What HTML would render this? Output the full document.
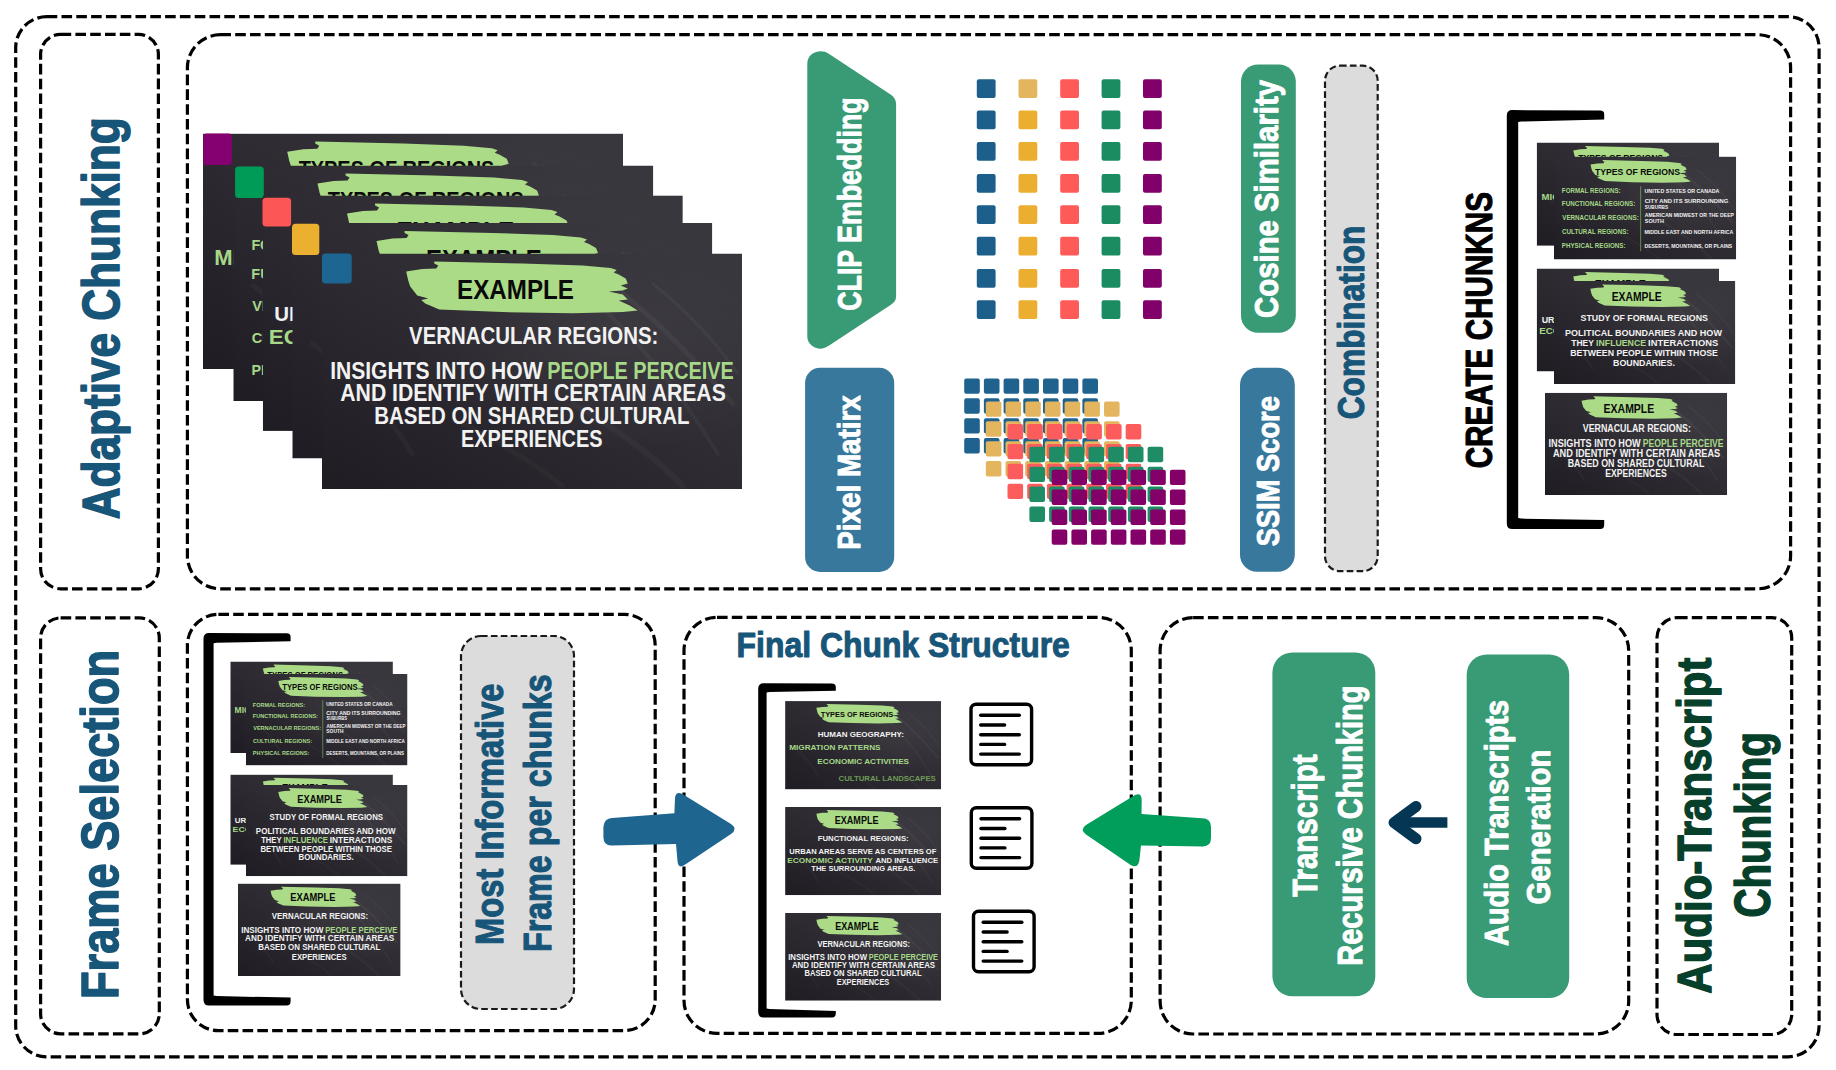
<!DOCTYPE html><html><head><meta charset="utf-8"><style>html,body{margin:0;padding:0;background:#fff;}svg{display:block;} text{font-family:"Liberation Sans", sans-serif;}</style></head><body>
<svg width="1836" height="1070" viewBox="0 0 1836 1070">
<defs>
<linearGradient id="chalk" x1="1" y1="0" x2="0" y2="1"><stop offset="0" stop-color="#38363d"/><stop offset="0.45" stop-color="#2f2d33"/><stop offset="1" stop-color="#1f1d23"/></linearGradient>
<radialGradient id="chalk2" cx="0.7" cy="0.35" r="0.5"><stop offset="0" stop-color="#ffffff" stop-opacity="0.05"/><stop offset="1" stop-color="#ffffff" stop-opacity="0"/></radialGradient>
<symbol id="sE" viewBox="0 0 419 235" preserveAspectRatio="none">
<rect x="0" y="0" width="419" height="235" fill="url(#chalk)"/>
<rect x="0" y="0" width="419" height="235" fill="url(#chalk2)"/>
<g fill="none" stroke="#ffffff" stroke-linecap="round"><path d="M300,40 Q350,80 410,150" stroke-opacity="0.045" stroke-width="5"/><path d="M280,55 Q340,110 395,200" stroke-opacity="0.035" stroke-width="4"/><path d="M330,30 Q380,70 415,120" stroke-opacity="0.04" stroke-width="3"/><path d="M250,150 Q320,190 360,232" stroke-opacity="0.03" stroke-width="6"/><path d="M20,120 Q60,150 90,200" stroke-opacity="0.03" stroke-width="5"/><path d="M140,170 Q200,200 240,232" stroke-opacity="0.025" stroke-width="5"/></g>
<path d="M112,8 L200,10 L260,12 L288,14.5 L294,16.5 L291,19 L296,21 L303,25 L305,30 L298,32 L305,35 L300,37 L286,38 L300,41 L305,46 L296,47 L307,52 L315,57 L300,58.5 L250,59.5 L180,58.5 L117,56 L103,50 L99,46.5 L106,45 L95,42 L88,33 L86,27 L84,18 L100,15.5 L114,15 L116,12 L112,10 Z" fill="#abdb87"/>
<text x="134.79" y="45.5" font-size="28.11" font-weight="bold" fill="#0a0a0a" text-anchor="start" textLength="116.45" lengthAdjust="spacingAndGlyphs">EXAMPLE</text>
<text x="86.86" y="90.3" font-size="23.5" font-weight="bold" fill="#f2f2f2" text-anchor="start" textLength="248.7" lengthAdjust="spacingAndGlyphs">VERNACULAR REGIONS:</text>
<text x="8.2" y="125" font-size="23.5" font-weight="bold" fill="#f2f2f2" text-anchor="start" textLength="211.82" lengthAdjust="spacingAndGlyphs">INSIGHTS INTO HOW</text>
<text x="224.67" y="125" font-size="23.5" font-weight="bold" fill="#a6d888" text-anchor="start" textLength="186.1" lengthAdjust="spacingAndGlyphs">PEOPLE PERCEIVE</text>
<text x="18.27" y="147" font-size="23.5" font-weight="bold" fill="#f2f2f2" text-anchor="start" textLength="384.55" lengthAdjust="spacingAndGlyphs">AND IDENTIFY WITH CERTAIN AREAS</text>
<text x="52.14" y="170.1" font-size="23.5" font-weight="bold" fill="#f2f2f2" text-anchor="start" textLength="314.49" lengthAdjust="spacingAndGlyphs">BASED ON SHARED CULTURAL</text>
<text x="138.67" y="193.3" font-size="23.5" font-weight="bold" fill="#f2f2f2" text-anchor="start" textLength="141.1" lengthAdjust="spacingAndGlyphs">EXPERIENCES</text>
</symbol>
<symbol id="sX" viewBox="0 0 419 235" preserveAspectRatio="none">
<rect x="0" y="0" width="419" height="235" fill="url(#chalk)"/>
<rect x="0" y="0" width="419" height="235" fill="url(#chalk2)"/>
<g fill="none" stroke="#ffffff" stroke-linecap="round"><path d="M300,40 Q350,80 410,150" stroke-opacity="0.045" stroke-width="5"/><path d="M280,55 Q340,110 395,200" stroke-opacity="0.035" stroke-width="4"/><path d="M330,30 Q380,70 415,120" stroke-opacity="0.04" stroke-width="3"/><path d="M250,150 Q320,190 360,232" stroke-opacity="0.03" stroke-width="6"/><path d="M20,120 Q60,150 90,200" stroke-opacity="0.03" stroke-width="5"/><path d="M140,170 Q200,200 240,232" stroke-opacity="0.025" stroke-width="5"/></g>
<path d="M112,8 L200,10 L260,12 L288,14.5 L294,16.5 L291,19 L296,21 L303,25 L305,30 L298,32 L305,35 L300,37 L286,38 L300,41 L305,46 L296,47 L307,52 L315,57 L300,58.5 L250,59.5 L180,58.5 L117,56 L103,50 L99,46.5 L106,45 L95,42 L88,33 L86,27 L84,18 L100,15.5 L114,15 L116,12 L112,10 Z" fill="#abdb87"/>
<text x="133.4" y="45.5" font-size="28.11" font-weight="bold" fill="#0a0a0a" text-anchor="start" textLength="115.53" lengthAdjust="spacingAndGlyphs">EXAMPLE</text>
</symbol>
<symbol id="sD" viewBox="0 0 419 235" preserveAspectRatio="none">
<rect x="0" y="0" width="419" height="235" fill="url(#chalk)"/>
<rect x="0" y="0" width="419" height="235" fill="url(#chalk2)"/>
<g fill="none" stroke="#ffffff" stroke-linecap="round"><path d="M300,40 Q350,80 410,150" stroke-opacity="0.045" stroke-width="5"/><path d="M280,55 Q340,110 395,200" stroke-opacity="0.035" stroke-width="4"/><path d="M330,30 Q380,70 415,120" stroke-opacity="0.04" stroke-width="3"/><path d="M250,150 Q320,190 360,232" stroke-opacity="0.03" stroke-width="6"/><path d="M20,120 Q60,150 90,200" stroke-opacity="0.03" stroke-width="5"/><path d="M140,170 Q200,200 240,232" stroke-opacity="0.025" stroke-width="5"/></g>
<path d="M112,8 L200,10 L260,12 L288,14.5 L294,16.5 L291,19 L296,21 L303,25 L305,30 L298,32 L305,35 L300,37 L286,38 L300,41 L305,46 L296,47 L307,52 L315,57 L300,58.5 L250,59.5 L180,58.5 L117,56 L103,50 L99,46.5 L106,45 L95,42 L88,33 L86,27 L84,18 L100,15.5 L114,15 L116,12 L112,10 Z" fill="#abdb87"/>
<text x="133.37" y="45.8" font-size="28.11" font-weight="bold" fill="#0a0a0a" text-anchor="start" textLength="117.58" lengthAdjust="spacingAndGlyphs">EXAMPLE</text>
<text x="87.6" y="90.6" font-size="19.86" font-weight="bold" fill="#f2f2f2" text-anchor="start" textLength="244.41" lengthAdjust="spacingAndGlyphs">FUNCTIONAL REGIONS:</text>
<text x="11.37" y="125.5" font-size="19.86" font-weight="bold" fill="#f2f2f2" text-anchor="start" textLength="394.97" lengthAdjust="spacingAndGlyphs">URBAN AREAS SERVE AS CENTERS OF</text>
<text x="6.01" y="148.7" font-size="19.86" font-weight="bold" fill="#a6d888" text-anchor="start" textLength="229.85" lengthAdjust="spacingAndGlyphs">ECONOMIC ACTIVITY</text>
<text x="242.49" y="148.7" font-size="19.86" font-weight="bold" fill="#f2f2f2" text-anchor="start" textLength="168.32" lengthAdjust="spacingAndGlyphs">AND INFLUENCE</text>
<text x="70.47" y="171.2" font-size="19.86" font-weight="bold" fill="#f2f2f2" text-anchor="start" textLength="279.31" lengthAdjust="spacingAndGlyphs">THE SURROUNDING AREAS.</text>
</symbol>
<symbol id="sC" viewBox="0 0 419 235" preserveAspectRatio="none">
<rect x="0" y="0" width="419" height="235" fill="url(#chalk)"/>
<rect x="0" y="0" width="419" height="235" fill="url(#chalk2)"/>
<g fill="none" stroke="#ffffff" stroke-linecap="round"><path d="M300,40 Q350,80 410,150" stroke-opacity="0.045" stroke-width="5"/><path d="M280,55 Q340,110 395,200" stroke-opacity="0.035" stroke-width="4"/><path d="M330,30 Q380,70 415,120" stroke-opacity="0.04" stroke-width="3"/><path d="M250,150 Q320,190 360,232" stroke-opacity="0.03" stroke-width="6"/><path d="M20,120 Q60,150 90,200" stroke-opacity="0.03" stroke-width="5"/><path d="M140,170 Q200,200 240,232" stroke-opacity="0.025" stroke-width="5"/></g>
<path d="M112,8 L200,10 L260,12 L288,14.5 L294,16.5 L291,19 L296,21 L303,25 L305,30 L298,32 L305,35 L300,37 L286,38 L300,41 L305,46 L296,47 L307,52 L315,57 L300,58.5 L250,59.5 L180,58.5 L117,56 L103,50 L99,46.5 L106,45 L95,42 L88,33 L86,27 L84,18 L100,15.5 L114,15 L116,12 L112,10 Z" fill="#abdb87"/>
<text x="133.4" y="45.5" font-size="28.11" font-weight="bold" fill="#0a0a0a" text-anchor="start" textLength="115.53" lengthAdjust="spacingAndGlyphs">EXAMPLE</text>
<text x="61.41" y="91" font-size="21.4" font-weight="bold" fill="#f2f2f2" text-anchor="start" textLength="294.38" lengthAdjust="spacingAndGlyphs">STUDY OF FORMAL REGIONS</text>
<text x="25.61" y="126" font-size="21.4" font-weight="bold" fill="#f2f2f2" text-anchor="start" textLength="362.41" lengthAdjust="spacingAndGlyphs">POLITICAL BOUNDARIES AND HOW</text>
<text x="39.78" y="149" font-size="21.4" font-weight="bold" fill="#f2f2f2" text-anchor="start" textLength="52.54" lengthAdjust="spacingAndGlyphs">THEY</text>
<text x="97.25" y="149" font-size="21.4" font-weight="bold" fill="#a6d888" text-anchor="start" textLength="115.54" lengthAdjust="spacingAndGlyphs">INFLUENCE</text>
<text x="217.56" y="149" font-size="21.4" font-weight="bold" fill="#f2f2f2" text-anchor="start" textLength="161.89" lengthAdjust="spacingAndGlyphs">INTERACTIONS</text>
<text x="37.65" y="172" font-size="21.4" font-weight="bold" fill="#f2f2f2" text-anchor="start" textLength="341.14" lengthAdjust="spacingAndGlyphs">BETWEEN PEOPLE WITHIN THOSE</text>
<text x="136.43" y="194.4" font-size="21.4" font-weight="bold" fill="#f2f2f2" text-anchor="start" textLength="142.87" lengthAdjust="spacingAndGlyphs">BOUNDARIES.</text>
</symbol>
<symbol id="sB" viewBox="0 0 419 235" preserveAspectRatio="none">
<rect x="0" y="0" width="419" height="235" fill="url(#chalk)"/>
<rect x="0" y="0" width="419" height="235" fill="url(#chalk2)"/>
<g fill="none" stroke="#ffffff" stroke-linecap="round"><path d="M300,40 Q350,80 410,150" stroke-opacity="0.045" stroke-width="5"/><path d="M280,55 Q340,110 395,200" stroke-opacity="0.035" stroke-width="4"/><path d="M330,30 Q380,70 415,120" stroke-opacity="0.04" stroke-width="3"/><path d="M250,150 Q320,190 360,232" stroke-opacity="0.03" stroke-width="6"/><path d="M20,120 Q60,150 90,200" stroke-opacity="0.03" stroke-width="5"/><path d="M140,170 Q200,200 240,232" stroke-opacity="0.025" stroke-width="5"/></g>
<path d="M112,8 L200,10 L260,12 L288,14.5 L294,16.5 L291,19 L296,21 L303,25 L305,30 L298,32 L305,35 L300,37 L286,38 L300,41 L305,46 L296,47 L307,52 L315,57 L300,58.5 L250,59.5 L180,58.5 L117,56 L103,50 L99,46.5 L106,45 L95,42 L88,33 L86,27 L84,18 L100,15.5 L114,15 L116,12 L112,10 Z" fill="#abdb87"/>
<text x="95.48" y="42" font-size="21.54" font-weight="bold" fill="#0a0a0a" text-anchor="start" textLength="195.1" lengthAdjust="spacingAndGlyphs">TYPES OF REGIONS</text>
<text x="87.56" y="95.8" font-size="19.58" font-weight="bold" fill="#f2f2f2" text-anchor="start" textLength="231.51" lengthAdjust="spacingAndGlyphs">HUMAN GEOGRAPHY:</text>
<text x="11.13" y="131.5" font-size="21.4" font-weight="bold" fill="#a6d888" text-anchor="start" textLength="245.13" lengthAdjust="spacingAndGlyphs">MIGRATION PATTERNS</text>
<text x="86.53" y="167" font-size="21.4" font-weight="bold" fill="#a6d888" text-anchor="start" textLength="246.32" lengthAdjust="spacingAndGlyphs">ECONOMIC ACTIVITIES</text>
<text x="143.74" y="213.3" font-size="21.4" font-weight="bold" fill="#6f9a58" text-anchor="start" textLength="261.07" lengthAdjust="spacingAndGlyphs">CULTURAL LANDSCAPES</text>
</symbol>
<symbol id="sA" viewBox="0 0 419 235" preserveAspectRatio="none">
<rect x="0" y="0" width="419" height="235" fill="url(#chalk)"/>
<rect x="0" y="0" width="419" height="235" fill="url(#chalk2)"/>
<g fill="none" stroke="#ffffff" stroke-linecap="round"><path d="M300,40 Q350,80 410,150" stroke-opacity="0.045" stroke-width="5"/><path d="M280,55 Q340,110 395,200" stroke-opacity="0.035" stroke-width="4"/><path d="M330,30 Q380,70 415,120" stroke-opacity="0.04" stroke-width="3"/><path d="M250,150 Q320,190 360,232" stroke-opacity="0.03" stroke-width="6"/><path d="M20,120 Q60,150 90,200" stroke-opacity="0.03" stroke-width="5"/><path d="M140,170 Q200,200 240,232" stroke-opacity="0.025" stroke-width="5"/></g>
<path d="M112,8 L200,10 L260,12 L288,14.5 L294,16.5 L291,19 L296,21 L303,25 L305,30 L298,32 L305,35 L300,37 L286,38 L300,41 L305,46 L296,47 L307,52 L315,57 L300,58.5 L250,59.5 L180,58.5 L117,56 L103,50 L99,46.5 L106,45 L95,42 L88,33 L86,27 L84,18 L100,15.5 L114,15 L116,12 L112,10 Z" fill="#abdb87"/>
<text x="94.28" y="41.5" font-size="21.54" font-weight="bold" fill="#0a0a0a" text-anchor="start" textLength="195.5" lengthAdjust="spacingAndGlyphs">TYPES OF REGIONS</text>
<text x="18.05" y="83.9" font-size="14.83" font-weight="bold" fill="#a6d888" text-anchor="start" textLength="135.33" lengthAdjust="spacingAndGlyphs">FORMAL REGIONS:</text>
<text x="18.03" y="113.4" font-size="14.83" font-weight="bold" fill="#a6d888" text-anchor="start" textLength="168.85" lengthAdjust="spacingAndGlyphs">FUNCTIONAL REGIONS:</text>
<text x="18.9" y="144.9" font-size="14.83" font-weight="bold" fill="#a6d888" text-anchor="start" textLength="175.98" lengthAdjust="spacingAndGlyphs">VERNACULAR REGIONS:</text>
<text x="18.41" y="177.20000000000002" font-size="14.83" font-weight="bold" fill="#a6d888" text-anchor="start" textLength="152.99" lengthAdjust="spacingAndGlyphs">CULTURAL REGIONS:</text>
<text x="18.05" y="208.8" font-size="14.83" font-weight="bold" fill="#a6d888" text-anchor="start" textLength="146.33" lengthAdjust="spacingAndGlyphs">PHYSICAL REGIONS:</text>
<rect x="198.7" y="67.7" width="1.6" height="148.3" fill="#7fb860"/>
<text x="208.27" y="83.3" font-size="12.03" font-weight="bold" fill="#f2f2f2" text-anchor="start" textLength="172.05" lengthAdjust="spacingAndGlyphs">UNITED STATES OR CANADA</text>
<text x="208.45" y="106.5" font-size="12.03" font-weight="bold" fill="#f2f2f2" text-anchor="start" textLength="192.38" lengthAdjust="spacingAndGlyphs">CITY AND ITS SURROUNDING</text>
<text x="208.69" y="119.2" font-size="12.03" font-weight="bold" fill="#f2f2f2" text-anchor="start" textLength="53.74" lengthAdjust="spacingAndGlyphs">SUBURBS</text>
<text x="208.71" y="138.8" font-size="12.03" font-weight="bold" fill="#f2f2f2" text-anchor="start" textLength="205.3" lengthAdjust="spacingAndGlyphs">AMERICAN MIDWEST OR THE DEEP</text>
<text x="208.64" y="151.4" font-size="12.03" font-weight="bold" fill="#f2f2f2" text-anchor="start" textLength="44.22" lengthAdjust="spacingAndGlyphs">SOUTH</text>
<text x="208.2" y="176.60000000000002" font-size="12.03" font-weight="bold" fill="#f2f2f2" text-anchor="start" textLength="203.92" lengthAdjust="spacingAndGlyphs">MIDDLE EAST AND NORTH AFRICA</text>
<text x="208.22" y="208.20000000000002" font-size="12.03" font-weight="bold" fill="#f2f2f2" text-anchor="start" textLength="201.74" lengthAdjust="spacingAndGlyphs">DESERTS, MOUNTAINS, OR PLAINS</text>
</symbol>
</defs>
<rect x="0" y="0" width="1836" height="1070" fill="#ffffff"/>
<rect x="15.7" y="16.7" width="1803.4" height="1040.1" rx="31" ry="31" fill="none" stroke="#000" stroke-width="3.2" stroke-dasharray="10.6 4.2"/>
<rect x="40.6" y="34.4" width="117.8" height="554.4" rx="20" ry="20" fill="none" stroke="#000" stroke-width="3.2" stroke-dasharray="10.6 4.2"/>
<rect x="187.4" y="34.7" width="1603.2" height="554.1" rx="33" ry="33" fill="none" stroke="#000" stroke-width="3.2" stroke-dasharray="10.6 4.2"/>
<rect x="40.6" y="617.9" width="118.7" height="415.9" rx="20" ry="20" fill="none" stroke="#000" stroke-width="3.2" stroke-dasharray="10.6 4.2"/>
<rect x="187.4" y="614.3" width="467.8" height="416.3" rx="31" ry="31" fill="none" stroke="#000" stroke-width="3.2" stroke-dasharray="10.6 4.2"/>
<rect x="684.0" y="617.4" width="447.3" height="416.0" rx="33" ry="33" fill="none" stroke="#000" stroke-width="3.2" stroke-dasharray="10.6 4.2"/>
<rect x="1160.1" y="617.6" width="468.6" height="416.4" rx="33" ry="33" fill="none" stroke="#000" stroke-width="3.2" stroke-dasharray="10.6 4.2"/>
<rect x="1657.0" y="617.6" width="134.7" height="416.9" rx="20" ry="20" fill="none" stroke="#000" stroke-width="3.2" stroke-dasharray="10.6 4.2"/>
<text transform="translate(118.93,519.33) rotate(-90)" font-size="51.69" font-weight="bold" fill="#175579" stroke="#175579" stroke-width="1.54" stroke-linejoin="round" textLength="402.01" lengthAdjust="spacingAndGlyphs">Adaptive Chunking</text>
<text transform="translate(118.32,999.04) rotate(-90)" font-size="52.36" font-weight="bold" fill="#175579" stroke="#175579" stroke-width="1.56" stroke-linejoin="round" textLength="349.17" lengthAdjust="spacingAndGlyphs">Frame Selection</text>
<use href="#sB" x="203" y="133.6" width="420" height="235.5"/>
<rect x="203.3" y="133.6" width="28.6" height="31.4" rx="3.5" fill="#850070"/>
<use href="#sA" x="233.3" y="165.5" width="420" height="235.5"/>
<rect x="235.1" y="166.5" width="28.7" height="31.6" rx="3.5" fill="#009b57"/>
<use href="#sD" x="262.8" y="195.4" width="420" height="235.5"/>
<rect x="262.5" y="197.8" width="28.6" height="28.6" rx="3.5" fill="#fd5656"/>
<use href="#sX" x="292.3" y="223" width="420" height="235.5"/>
<rect x="292.0" y="223.8" width="27.3" height="31.2" rx="3.5" fill="#ebb030"/>
<use href="#sE" x="322" y="253.5" width="420" height="235.5"/>
<rect x="322.0" y="253.4" width="29.7" height="30.1" rx="3.5" fill="#1d6691"/>
<path d="M807.3,64 C807.3,56 813,51.2 821,51.2 C823.8,51.2 826,52 828.4,53.5 L889.8,93.9 C894,96.6 896.1,99.5 896.1,104.5 L896.1,296.5 C896.1,300.5 894,303 889.8,305.4 L829.9,345.1 C827,347 824,348.7 821,348.7 C813,348.7 807.3,343 807.3,336.8 Z" fill="#389b75"/>
<text transform="translate(860.72,310.71) rotate(-90)" font-size="32.63" font-weight="bold" fill="#ffffff" stroke="#ffffff" stroke-width="0.97" stroke-linejoin="round" textLength="213.31" lengthAdjust="spacingAndGlyphs">CLIP Embedding</text>
<rect x="805.1" y="367.8" width="89.1" height="204.2" rx="15" fill="#38789c"/>
<text transform="translate(860.24,549.69) rotate(-90)" font-size="31.29" font-weight="bold" fill="#ffffff" stroke="#ffffff" stroke-width="0.93" stroke-linejoin="round" textLength="154.43" lengthAdjust="spacingAndGlyphs">Pixel Matirx</text>
<rect x="976.8" y="79.2" width="18.8" height="18.8" rx="2" fill="#1c5f8a"/>
<rect x="976.8" y="110.5" width="18.8" height="18.8" rx="2" fill="#1c5f8a"/>
<rect x="976.8" y="141.9" width="18.8" height="18.8" rx="2" fill="#1c5f8a"/>
<rect x="976.8" y="174.0" width="18.8" height="18.8" rx="2" fill="#1c5f8a"/>
<rect x="976.8" y="205.3" width="18.8" height="18.8" rx="2" fill="#1c5f8a"/>
<rect x="976.8" y="236.7" width="18.8" height="18.8" rx="2" fill="#1c5f8a"/>
<rect x="976.8" y="268.9" width="18.8" height="18.8" rx="2" fill="#1c5f8a"/>
<rect x="976.8" y="300.3" width="18.8" height="18.8" rx="2" fill="#1c5f8a"/>
<rect x="1018.5" y="79.2" width="18.8" height="18.8" rx="2" fill="#e3b55e"/>
<rect x="1018.5" y="110.5" width="18.8" height="18.8" rx="2" fill="#ebae31"/>
<rect x="1018.5" y="141.9" width="18.8" height="18.8" rx="2" fill="#ebae31"/>
<rect x="1018.5" y="174.0" width="18.8" height="18.8" rx="2" fill="#ebae31"/>
<rect x="1018.5" y="205.3" width="18.8" height="18.8" rx="2" fill="#ebae31"/>
<rect x="1018.5" y="236.7" width="18.8" height="18.8" rx="2" fill="#ebae31"/>
<rect x="1018.5" y="268.9" width="18.8" height="18.8" rx="2" fill="#ebae31"/>
<rect x="1018.5" y="300.3" width="18.8" height="18.8" rx="2" fill="#ebae31"/>
<rect x="1060.2" y="79.2" width="18.8" height="18.8" rx="2" fill="#fe5a58"/>
<rect x="1060.2" y="110.5" width="18.8" height="18.8" rx="2" fill="#fe5a58"/>
<rect x="1060.2" y="141.9" width="18.8" height="18.8" rx="2" fill="#fe5a58"/>
<rect x="1060.2" y="174.0" width="18.8" height="18.8" rx="2" fill="#fe5a58"/>
<rect x="1060.2" y="205.3" width="18.8" height="18.8" rx="2" fill="#fe5a58"/>
<rect x="1060.2" y="236.7" width="18.8" height="18.8" rx="2" fill="#fe5a58"/>
<rect x="1060.2" y="268.9" width="18.8" height="18.8" rx="2" fill="#fe5a58"/>
<rect x="1060.2" y="300.3" width="18.8" height="18.8" rx="2" fill="#fe5a58"/>
<rect x="1101.6" y="79.2" width="18.8" height="18.8" rx="2" fill="#1b8c62"/>
<rect x="1101.6" y="110.5" width="18.8" height="18.8" rx="2" fill="#1b8c62"/>
<rect x="1101.6" y="141.9" width="18.8" height="18.8" rx="2" fill="#1b8c62"/>
<rect x="1101.6" y="174.0" width="18.8" height="18.8" rx="2" fill="#1b8c62"/>
<rect x="1101.6" y="205.3" width="18.8" height="18.8" rx="2" fill="#1b8c62"/>
<rect x="1101.6" y="236.7" width="18.8" height="18.8" rx="2" fill="#1b8c62"/>
<rect x="1101.6" y="268.9" width="18.8" height="18.8" rx="2" fill="#1b8c62"/>
<rect x="1101.6" y="300.3" width="18.8" height="18.8" rx="2" fill="#1b8c62"/>
<rect x="1143" y="79.2" width="18.8" height="18.8" rx="2" fill="#82006a"/>
<rect x="1143" y="110.5" width="18.8" height="18.8" rx="2" fill="#82006a"/>
<rect x="1143" y="141.9" width="18.8" height="18.8" rx="2" fill="#82006a"/>
<rect x="1143" y="174.0" width="18.8" height="18.8" rx="2" fill="#82006a"/>
<rect x="1143" y="205.3" width="18.8" height="18.8" rx="2" fill="#82006a"/>
<rect x="1143" y="236.7" width="18.8" height="18.8" rx="2" fill="#82006a"/>
<rect x="1143" y="268.9" width="18.8" height="18.8" rx="2" fill="#82006a"/>
<rect x="1143" y="300.3" width="18.8" height="18.8" rx="2" fill="#82006a"/>
<rect x="964.2" y="378.4" width="15.6" height="15.4" rx="2" fill="#1f628e"/>
<rect x="983.9" y="378.4" width="15.6" height="15.4" rx="2" fill="#1f628e"/>
<rect x="1003.6" y="378.4" width="15.6" height="15.4" rx="2" fill="#1f628e"/>
<rect x="1023.3" y="378.4" width="15.6" height="15.4" rx="2" fill="#1f628e"/>
<rect x="1043.0" y="378.4" width="15.6" height="15.4" rx="2" fill="#1f628e"/>
<rect x="1062.7" y="378.4" width="15.6" height="15.4" rx="2" fill="#1f628e"/>
<rect x="1082.4" y="378.4" width="15.6" height="15.4" rx="2" fill="#1f628e"/>
<rect x="964.2" y="398.3" width="15.6" height="15.4" rx="2" fill="#1f628e"/>
<rect x="983.9" y="398.3" width="15.6" height="15.4" rx="2" fill="#1f628e"/>
<rect x="1003.6" y="398.3" width="15.6" height="15.4" rx="2" fill="#1f628e"/>
<rect x="1023.3" y="398.3" width="15.6" height="15.4" rx="2" fill="#1f628e"/>
<rect x="1043.0" y="398.3" width="15.6" height="15.4" rx="2" fill="#1f628e"/>
<rect x="1062.7" y="398.3" width="15.6" height="15.4" rx="2" fill="#1f628e"/>
<rect x="1082.4" y="398.3" width="15.6" height="15.4" rx="2" fill="#1f628e"/>
<rect x="964.2" y="418.2" width="15.6" height="15.4" rx="2" fill="#1f628e"/>
<rect x="983.9" y="418.2" width="15.6" height="15.4" rx="2" fill="#1f628e"/>
<rect x="1003.6" y="418.2" width="15.6" height="15.4" rx="2" fill="#1f628e"/>
<rect x="1023.3" y="418.2" width="15.6" height="15.4" rx="2" fill="#1f628e"/>
<rect x="1043.0" y="418.2" width="15.6" height="15.4" rx="2" fill="#1f628e"/>
<rect x="1062.7" y="418.2" width="15.6" height="15.4" rx="2" fill="#1f628e"/>
<rect x="1082.4" y="418.2" width="15.6" height="15.4" rx="2" fill="#1f628e"/>
<rect x="964.2" y="438.1" width="15.6" height="15.4" rx="2" fill="#1f628e"/>
<rect x="983.9" y="438.1" width="15.6" height="15.4" rx="2" fill="#1f628e"/>
<rect x="1003.6" y="438.1" width="15.6" height="15.4" rx="2" fill="#1f628e"/>
<rect x="1023.3" y="438.1" width="15.6" height="15.4" rx="2" fill="#1f628e"/>
<rect x="1043.0" y="438.1" width="15.6" height="15.4" rx="2" fill="#1f628e"/>
<rect x="1062.7" y="438.1" width="15.6" height="15.4" rx="2" fill="#1f628e"/>
<rect x="1082.4" y="438.1" width="15.6" height="15.4" rx="2" fill="#1f628e"/>
<rect x="985.8" y="401.4" width="15.6" height="15.4" rx="2" fill="#e3b55f"/>
<rect x="1005.5" y="401.4" width="15.6" height="15.4" rx="2" fill="#e3b55f"/>
<rect x="1025.2" y="401.4" width="15.6" height="15.4" rx="2" fill="#e3b55f"/>
<rect x="1044.9" y="401.4" width="15.6" height="15.4" rx="2" fill="#e3b55f"/>
<rect x="1064.6" y="401.4" width="15.6" height="15.4" rx="2" fill="#e3b55f"/>
<rect x="1084.3" y="401.4" width="15.6" height="15.4" rx="2" fill="#e3b55f"/>
<rect x="1104.0" y="401.4" width="15.6" height="15.4" rx="2" fill="#e3b55f"/>
<rect x="985.8" y="421.3" width="15.6" height="15.4" rx="2" fill="#e3b55f"/>
<rect x="1005.5" y="421.3" width="15.6" height="15.4" rx="2" fill="#e3b55f"/>
<rect x="1025.2" y="421.3" width="15.6" height="15.4" rx="2" fill="#e3b55f"/>
<rect x="1044.9" y="421.3" width="15.6" height="15.4" rx="2" fill="#e3b55f"/>
<rect x="1064.6" y="421.3" width="15.6" height="15.4" rx="2" fill="#e3b55f"/>
<rect x="1084.3" y="421.3" width="15.6" height="15.4" rx="2" fill="#e3b55f"/>
<rect x="1104.0" y="421.3" width="15.6" height="15.4" rx="2" fill="#e3b55f"/>
<rect x="985.8" y="441.2" width="15.6" height="15.4" rx="2" fill="#e3b55f"/>
<rect x="1005.5" y="441.2" width="15.6" height="15.4" rx="2" fill="#e3b55f"/>
<rect x="1025.2" y="441.2" width="15.6" height="15.4" rx="2" fill="#e3b55f"/>
<rect x="1044.9" y="441.2" width="15.6" height="15.4" rx="2" fill="#e3b55f"/>
<rect x="1064.6" y="441.2" width="15.6" height="15.4" rx="2" fill="#e3b55f"/>
<rect x="1084.3" y="441.2" width="15.6" height="15.4" rx="2" fill="#e3b55f"/>
<rect x="1104.0" y="441.2" width="15.6" height="15.4" rx="2" fill="#e3b55f"/>
<rect x="985.8" y="461.1" width="15.6" height="15.4" rx="2" fill="#e3b55f"/>
<rect x="1005.5" y="461.1" width="15.6" height="15.4" rx="2" fill="#e3b55f"/>
<rect x="1025.2" y="461.1" width="15.6" height="15.4" rx="2" fill="#e3b55f"/>
<rect x="1044.9" y="461.1" width="15.6" height="15.4" rx="2" fill="#e3b55f"/>
<rect x="1064.6" y="461.1" width="15.6" height="15.4" rx="2" fill="#e3b55f"/>
<rect x="1084.3" y="461.1" width="15.6" height="15.4" rx="2" fill="#e3b55f"/>
<rect x="1104.0" y="461.1" width="15.6" height="15.4" rx="2" fill="#e3b55f"/>
<rect x="1007.5" y="424.0" width="15.6" height="15.4" rx="2" fill="#fd5c5c"/>
<rect x="1027.2" y="424.0" width="15.6" height="15.4" rx="2" fill="#fd5c5c"/>
<rect x="1046.9" y="424.0" width="15.6" height="15.4" rx="2" fill="#fd5c5c"/>
<rect x="1066.6" y="424.0" width="15.6" height="15.4" rx="2" fill="#fd5c5c"/>
<rect x="1086.3" y="424.0" width="15.6" height="15.4" rx="2" fill="#fd5c5c"/>
<rect x="1106.0" y="424.0" width="15.6" height="15.4" rx="2" fill="#fd5c5c"/>
<rect x="1125.7" y="424.0" width="15.6" height="15.4" rx="2" fill="#fd5c5c"/>
<rect x="1007.5" y="443.9" width="15.6" height="15.4" rx="2" fill="#fd5c5c"/>
<rect x="1027.2" y="443.9" width="15.6" height="15.4" rx="2" fill="#fd5c5c"/>
<rect x="1046.9" y="443.9" width="15.6" height="15.4" rx="2" fill="#fd5c5c"/>
<rect x="1066.6" y="443.9" width="15.6" height="15.4" rx="2" fill="#fd5c5c"/>
<rect x="1086.3" y="443.9" width="15.6" height="15.4" rx="2" fill="#fd5c5c"/>
<rect x="1106.0" y="443.9" width="15.6" height="15.4" rx="2" fill="#fd5c5c"/>
<rect x="1125.7" y="443.9" width="15.6" height="15.4" rx="2" fill="#fd5c5c"/>
<rect x="1007.5" y="463.8" width="15.6" height="15.4" rx="2" fill="#fd5c5c"/>
<rect x="1027.2" y="463.8" width="15.6" height="15.4" rx="2" fill="#fd5c5c"/>
<rect x="1046.9" y="463.8" width="15.6" height="15.4" rx="2" fill="#fd5c5c"/>
<rect x="1066.6" y="463.8" width="15.6" height="15.4" rx="2" fill="#fd5c5c"/>
<rect x="1086.3" y="463.8" width="15.6" height="15.4" rx="2" fill="#fd5c5c"/>
<rect x="1106.0" y="463.8" width="15.6" height="15.4" rx="2" fill="#fd5c5c"/>
<rect x="1125.7" y="463.8" width="15.6" height="15.4" rx="2" fill="#fd5c5c"/>
<rect x="1007.5" y="483.7" width="15.6" height="15.4" rx="2" fill="#fd5c5c"/>
<rect x="1027.2" y="483.7" width="15.6" height="15.4" rx="2" fill="#fd5c5c"/>
<rect x="1046.9" y="483.7" width="15.6" height="15.4" rx="2" fill="#fd5c5c"/>
<rect x="1066.6" y="483.7" width="15.6" height="15.4" rx="2" fill="#fd5c5c"/>
<rect x="1086.3" y="483.7" width="15.6" height="15.4" rx="2" fill="#fd5c5c"/>
<rect x="1106.0" y="483.7" width="15.6" height="15.4" rx="2" fill="#fd5c5c"/>
<rect x="1125.7" y="483.7" width="15.6" height="15.4" rx="2" fill="#fd5c5c"/>
<rect x="1029.4" y="446.8" width="15.6" height="15.4" rx="2" fill="#1e8c64"/>
<rect x="1049.1" y="446.8" width="15.6" height="15.4" rx="2" fill="#1e8c64"/>
<rect x="1068.8" y="446.8" width="15.6" height="15.4" rx="2" fill="#1e8c64"/>
<rect x="1088.5" y="446.8" width="15.6" height="15.4" rx="2" fill="#1e8c64"/>
<rect x="1108.2" y="446.8" width="15.6" height="15.4" rx="2" fill="#1e8c64"/>
<rect x="1127.9" y="446.8" width="15.6" height="15.4" rx="2" fill="#1e8c64"/>
<rect x="1147.6" y="446.8" width="15.6" height="15.4" rx="2" fill="#1e8c64"/>
<rect x="1029.4" y="466.7" width="15.6" height="15.4" rx="2" fill="#1e8c64"/>
<rect x="1049.1" y="466.7" width="15.6" height="15.4" rx="2" fill="#1e8c64"/>
<rect x="1068.8" y="466.7" width="15.6" height="15.4" rx="2" fill="#1e8c64"/>
<rect x="1088.5" y="466.7" width="15.6" height="15.4" rx="2" fill="#1e8c64"/>
<rect x="1108.2" y="466.7" width="15.6" height="15.4" rx="2" fill="#1e8c64"/>
<rect x="1127.9" y="466.7" width="15.6" height="15.4" rx="2" fill="#1e8c64"/>
<rect x="1147.6" y="466.7" width="15.6" height="15.4" rx="2" fill="#1e8c64"/>
<rect x="1029.4" y="486.6" width="15.6" height="15.4" rx="2" fill="#1e8c64"/>
<rect x="1049.1" y="486.6" width="15.6" height="15.4" rx="2" fill="#1e8c64"/>
<rect x="1068.8" y="486.6" width="15.6" height="15.4" rx="2" fill="#1e8c64"/>
<rect x="1088.5" y="486.6" width="15.6" height="15.4" rx="2" fill="#1e8c64"/>
<rect x="1108.2" y="486.6" width="15.6" height="15.4" rx="2" fill="#1e8c64"/>
<rect x="1127.9" y="486.6" width="15.6" height="15.4" rx="2" fill="#1e8c64"/>
<rect x="1147.6" y="486.6" width="15.6" height="15.4" rx="2" fill="#1e8c64"/>
<rect x="1029.4" y="506.5" width="15.6" height="15.4" rx="2" fill="#1e8c64"/>
<rect x="1049.1" y="506.5" width="15.6" height="15.4" rx="2" fill="#1e8c64"/>
<rect x="1068.8" y="506.5" width="15.6" height="15.4" rx="2" fill="#1e8c64"/>
<rect x="1088.5" y="506.5" width="15.6" height="15.4" rx="2" fill="#1e8c64"/>
<rect x="1108.2" y="506.5" width="15.6" height="15.4" rx="2" fill="#1e8c64"/>
<rect x="1127.9" y="506.5" width="15.6" height="15.4" rx="2" fill="#1e8c64"/>
<rect x="1147.6" y="506.5" width="15.6" height="15.4" rx="2" fill="#1e8c64"/>
<rect x="1051.7" y="469.7" width="15.6" height="15.4" rx="2" fill="#830068"/>
<rect x="1071.4" y="469.7" width="15.6" height="15.4" rx="2" fill="#830068"/>
<rect x="1091.1" y="469.7" width="15.6" height="15.4" rx="2" fill="#830068"/>
<rect x="1110.8" y="469.7" width="15.6" height="15.4" rx="2" fill="#830068"/>
<rect x="1130.5" y="469.7" width="15.6" height="15.4" rx="2" fill="#830068"/>
<rect x="1150.2" y="469.7" width="15.6" height="15.4" rx="2" fill="#830068"/>
<rect x="1169.9" y="469.7" width="15.6" height="15.4" rx="2" fill="#830068"/>
<rect x="1051.7" y="489.6" width="15.6" height="15.4" rx="2" fill="#830068"/>
<rect x="1071.4" y="489.6" width="15.6" height="15.4" rx="2" fill="#830068"/>
<rect x="1091.1" y="489.6" width="15.6" height="15.4" rx="2" fill="#830068"/>
<rect x="1110.8" y="489.6" width="15.6" height="15.4" rx="2" fill="#830068"/>
<rect x="1130.5" y="489.6" width="15.6" height="15.4" rx="2" fill="#830068"/>
<rect x="1150.2" y="489.6" width="15.6" height="15.4" rx="2" fill="#830068"/>
<rect x="1169.9" y="489.6" width="15.6" height="15.4" rx="2" fill="#830068"/>
<rect x="1051.7" y="509.5" width="15.6" height="15.4" rx="2" fill="#830068"/>
<rect x="1071.4" y="509.5" width="15.6" height="15.4" rx="2" fill="#830068"/>
<rect x="1091.1" y="509.5" width="15.6" height="15.4" rx="2" fill="#830068"/>
<rect x="1110.8" y="509.5" width="15.6" height="15.4" rx="2" fill="#830068"/>
<rect x="1130.5" y="509.5" width="15.6" height="15.4" rx="2" fill="#830068"/>
<rect x="1150.2" y="509.5" width="15.6" height="15.4" rx="2" fill="#830068"/>
<rect x="1169.9" y="509.5" width="15.6" height="15.4" rx="2" fill="#830068"/>
<rect x="1051.7" y="529.4" width="15.6" height="15.4" rx="2" fill="#830068"/>
<rect x="1071.4" y="529.4" width="15.6" height="15.4" rx="2" fill="#830068"/>
<rect x="1091.1" y="529.4" width="15.6" height="15.4" rx="2" fill="#830068"/>
<rect x="1110.8" y="529.4" width="15.6" height="15.4" rx="2" fill="#830068"/>
<rect x="1130.5" y="529.4" width="15.6" height="15.4" rx="2" fill="#830068"/>
<rect x="1150.2" y="529.4" width="15.6" height="15.4" rx="2" fill="#830068"/>
<rect x="1169.9" y="529.4" width="15.6" height="15.4" rx="2" fill="#830068"/>
<rect x="1241" y="64.4" width="54.8" height="268.4" rx="17" fill="#389b75"/>
<text transform="translate(1278.42,317.92) rotate(-90)" font-size="32.63" font-weight="bold" fill="#ffffff" stroke="#ffffff" stroke-width="0.97" stroke-linejoin="round" textLength="237.99" lengthAdjust="spacingAndGlyphs">Cosine Similarity</text>
<rect x="1240" y="367.8" width="54.8" height="204" rx="17" fill="#38789c"/>
<text transform="translate(1279.33,546.32) rotate(-90)" font-size="31.69" font-weight="bold" fill="#ffffff" stroke="#ffffff" stroke-width="0.94" stroke-linejoin="round" textLength="150.18" lengthAdjust="spacingAndGlyphs">SSIM Score</text>
<rect x="1325" y="65.7" width="52.7" height="505.5" rx="15" ry="15" fill="#dcdcdc" stroke="#1a1a1a" stroke-width="2.2" stroke-dasharray="6.6 3.3"/>
<text transform="translate(1364.24,419.34) rotate(-90)" font-size="37.59" font-weight="bold" fill="#175579" stroke="#175579" stroke-width="1.12" stroke-linejoin="round" textLength="193.85" lengthAdjust="spacingAndGlyphs">Combination</text>
<text transform="translate(1492.45,468.37) rotate(-90)" font-size="37.06" font-weight="bold" fill="#000000" stroke="#000000" stroke-width="1.1" stroke-linejoin="round" textLength="276.38" lengthAdjust="spacingAndGlyphs">CREATE CHUNKNS</text>
<path d="M1506.8,115.6 Q1506.8,110.1 1512.3,110.1 L1600.2,110.39999999999999 Q1604.2,110.39999999999999 1604.2,114.1 L1604.2,119.6 L1521.2,121.6 L1518.2,122.1 L1518.2,518.1 L1521.2,518.6 L1604.2,519.9 L1604.2,525.0 Q1604.2,529.0 1600.2,529.0 L1512.3,529.0 Q1506.8,529.0 1506.8,523.5 Z" fill="#000"/>
<use href="#sB" x="1536.7" y="142.5" width="182.3" height="103.3"/>
<use href="#sA" x="1554" y="156.6" width="182.2" height="102.9"/>
<use href="#sD" x="1536.7" y="268.5" width="182.3" height="103"/>
<use href="#sC" x="1554" y="280.9" width="181.3" height="103.1"/>
<use href="#sE" x="1545" y="392.8" width="182.2" height="102.2"/>
<path d="M203.5,638.5 Q203.5,633.0 209.0,633.0 L286.6,633.3 Q290.6,633.3 290.6,637.0 L290.6,641.3 L216.6,642.7 L213.6,643.2 L213.6,995.6 L216.6,996.1 L290.6,997.6 L290.6,1001.4 Q290.6,1005.4 286.6,1005.4 L209.0,1005.4 Q203.5,1005.4 203.5,999.9 Z" fill="#000"/>
<use href="#sB" x="230.3" y="661.5" width="162.6" height="91.5"/>
<use href="#sA" x="245.9" y="673.9" width="161.6" height="91.5"/>
<use href="#sD" x="230.3" y="774.6" width="162.6" height="90.2"/>
<use href="#sC" x="245.9" y="785" width="161.6" height="91.2"/>
<use href="#sE" x="238" y="883.6" width="162.6" height="92.4"/>
<rect x="461" y="636" width="113" height="373" rx="20" ry="20" fill="#dcdcdc" stroke="#1a1a1a" stroke-width="2.2" stroke-dasharray="6.6 3.3"/>
<text transform="translate(503.02,944.91) rotate(-90)" font-size="38.94" font-weight="bold" fill="#175579" stroke="#175579" stroke-width="1.16" stroke-linejoin="round" textLength="261.44" lengthAdjust="spacingAndGlyphs">Most Informative</text>
<text transform="translate(550.91,952.07) rotate(-90)" font-size="39.61" font-weight="bold" fill="#175579" stroke="#175579" stroke-width="1.18" stroke-linejoin="round" textLength="277.80" lengthAdjust="spacingAndGlyphs">Frame per chunks</text>
<text x="736.60" y="656.76" font-size="35.85" font-weight="bold" fill="#175579" stroke="#175579" stroke-width="1.07" stroke-linejoin="round" textLength="333.25" lengthAdjust="spacingAndGlyphs">Final Chunk Structure</text>
<path d="M758.2,688.8 Q758.2,683.3 763.7,683.3 L831.8,683.5999999999999 Q835.8,683.5999999999999 835.8,687.3 L835.8,690.7 L769.6,692.0 L766.6,692.5 L766.6,1008.5 L769.6,1009.0 L835.8,1011.0 L835.8,1013.5 Q835.8,1017.5 831.8,1017.5 L763.7,1017.5 Q758.2,1017.5 758.2,1012.0 Z" fill="#000"/>
<use href="#sB" x="785.1" y="701.1" width="156" height="88.3"/>
<use href="#sD" x="785.1" y="807" width="156" height="88.2"/>
<use href="#sE" x="785.1" y="913" width="156" height="87.7"/>
<rect x="971.0" y="704.2" width="60.6" height="60.6" rx="5" fill="#fff" stroke="#000" stroke-width="3.4"/>
<line x1="980.6999999999999" y1="715.3" x2="1019.3" y2="715.3" stroke="#000" stroke-width="3.4" stroke-linecap="round"/>
<line x1="980.6999999999999" y1="725.0" x2="1004.6" y2="725.0" stroke="#000" stroke-width="3.4" stroke-linecap="round"/>
<line x1="980.6999999999999" y1="734.7" x2="1019.3" y2="734.7" stroke="#000" stroke-width="3.4" stroke-linecap="round"/>
<line x1="980.6999999999999" y1="744.4" x2="1004.6" y2="744.4" stroke="#000" stroke-width="3.4" stroke-linecap="round"/>
<line x1="980.6999999999999" y1="754.1" x2="1019.3" y2="754.1" stroke="#000" stroke-width="3.4" stroke-linecap="round"/>
<rect x="971.3000000000001" y="807.7" width="60.6" height="60.6" rx="5" fill="#fff" stroke="#000" stroke-width="3.4"/>
<line x1="981.0" y1="818.8" x2="1019.6" y2="818.8" stroke="#000" stroke-width="3.4" stroke-linecap="round"/>
<line x1="981.0" y1="828.5" x2="1004.9" y2="828.5" stroke="#000" stroke-width="3.4" stroke-linecap="round"/>
<line x1="981.0" y1="838.2" x2="1019.6" y2="838.2" stroke="#000" stroke-width="3.4" stroke-linecap="round"/>
<line x1="981.0" y1="847.9" x2="1004.9" y2="847.9" stroke="#000" stroke-width="3.4" stroke-linecap="round"/>
<line x1="981.0" y1="857.6" x2="1019.6" y2="857.6" stroke="#000" stroke-width="3.4" stroke-linecap="round"/>
<rect x="973.5" y="911.2" width="60.6" height="60.6" rx="5" fill="#fff" stroke="#000" stroke-width="3.4"/>
<line x1="983.1999999999999" y1="922.3" x2="1021.8" y2="922.3" stroke="#000" stroke-width="3.4" stroke-linecap="round"/>
<line x1="983.1999999999999" y1="932.0" x2="1007.1" y2="932.0" stroke="#000" stroke-width="3.4" stroke-linecap="round"/>
<line x1="983.1999999999999" y1="941.7" x2="1021.8" y2="941.7" stroke="#000" stroke-width="3.4" stroke-linecap="round"/>
<line x1="983.1999999999999" y1="951.4" x2="1007.1" y2="951.4" stroke="#000" stroke-width="3.4" stroke-linecap="round"/>
<line x1="983.1999999999999" y1="961.1" x2="1021.8" y2="961.1" stroke="#000" stroke-width="3.4" stroke-linecap="round"/>
<path d="M612,818 L674.4,813.2 L675,798 Q676,790 684,795 L731,824 Q738,829 731,834 L686,864 Q678,870 677.5,861 L676,844 L612,845.6 Q603.5,846 603.4,837 L603.4,827 Q604,818.5 612,818 Z" fill="#1e6690"/>
<path d="M1202,818.3 L1141.5,814.1 L1141.7,800 Q1141.5,792 1135,795 L1086,825 Q1079.5,829.5 1086,834.5 L1130,864.5 Q1137.5,869.5 1139.3,861 L1141,845.5 L1203,846.4 Q1211,846.4 1211,838 L1211,827 Q1211,818.5 1202,818.3 Z" fill="#009d5b"/>
<rect x="1272.4" y="652.4" width="102.9" height="343.9" rx="20" fill="#389b75"/>
<text transform="translate(1316.59,896.92) rotate(-90)" font-size="34.24" font-weight="bold" fill="#ffffff" stroke="#ffffff" stroke-width="1.02" stroke-linejoin="round" textLength="142.57" lengthAdjust="spacingAndGlyphs">Transcript</text>
<text transform="translate(1361.97,965.71) rotate(-90)" font-size="35.58" font-weight="bold" fill="#ffffff" stroke="#ffffff" stroke-width="1.06" stroke-linejoin="round" textLength="280.12" lengthAdjust="spacingAndGlyphs">Recursive Chunking</text>
<rect x="1466.7" y="654.4" width="102.5" height="343.6" rx="20" fill="#389b75"/>
<text transform="translate(1507.50,946.02) rotate(-90)" font-size="33.57" font-weight="bold" fill="#ffffff" stroke="#ffffff" stroke-width="1.0" stroke-linejoin="round" textLength="246.21" lengthAdjust="spacingAndGlyphs">Audio Transcripts</text>
<text transform="translate(1550.29,904.50) rotate(-90)" font-size="33.97" font-weight="bold" fill="#ffffff" stroke="#ffffff" stroke-width="1.01" stroke-linejoin="round" textLength="154.91" lengthAdjust="spacingAndGlyphs">Generation</text>
<path d="M1447.4,822.5 H1400" stroke="#053755" stroke-width="10.7" fill="none"/>
<path d="M1416,806.5 L1394,822.6 L1416,838.7" stroke="#053755" stroke-width="11" fill="none" stroke-linecap="round" stroke-linejoin="round"/>
<text transform="translate(1711.28,993.63) rotate(-90)" font-size="48.34" font-weight="bold" fill="#07402a" stroke="#07402a" stroke-width="1.44" stroke-linejoin="round" textLength="336.12" lengthAdjust="spacingAndGlyphs">Audio-Transcript</text>
<text transform="translate(1770.16,917.61) rotate(-90)" font-size="49.68" font-weight="bold" fill="#07402a" stroke="#07402a" stroke-width="1.48" stroke-linejoin="round" textLength="185.56" lengthAdjust="spacingAndGlyphs">Chunking</text>
</svg></body></html>
